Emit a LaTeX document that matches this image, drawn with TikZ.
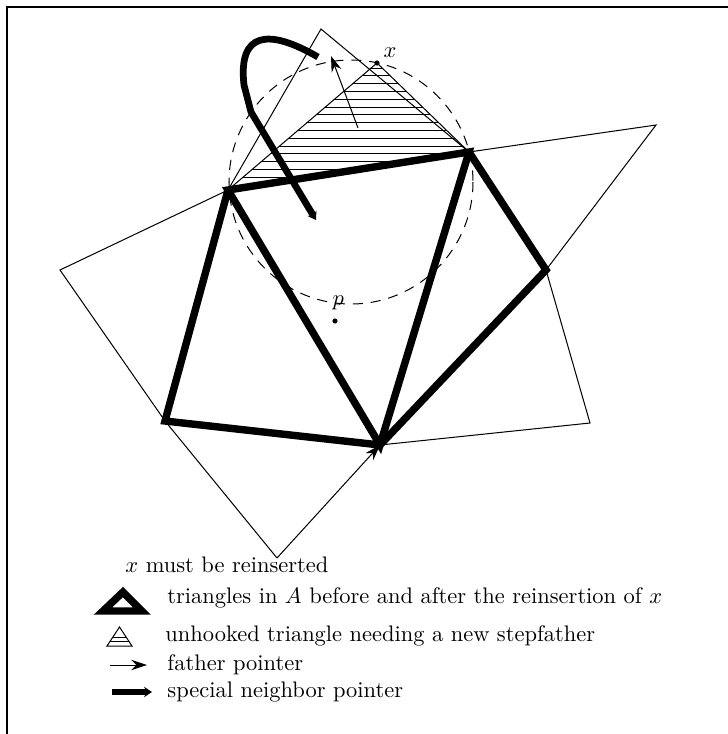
\documentclass[tikz,border=0pt]{standalone}
\usetikzlibrary{arrows.meta, positioning}

\begin{document}
\begin{tikzpicture}[
        x=0.445pt, y=-0.445pt,
        thinedge/.style={line width=0.45pt, draw=black},
        thickedge/.style={line width=3.3pt, draw=black, line join=miter},
        circumcircle/.style={line width=0.45pt, dash pattern=on 4.5pt off 3.5pt},
        dot/.style={circle, fill=black, inner sep=0pt, minimum size=2.3pt},
        fptr/.style={-{Stealth[length=7pt, width=4.6pt]}, line width=0.45pt},
        sptr/.style={-{Stealth[length=3.5pt, width=4.6pt]}, line width=3pt},
        legtext/.style={anchor=west, inner sep=0pt}
    ]
    \useasboundingbox (0,0) rectangle (728,734);

    % The frame
    \draw[line width=0.7pt] (7,734) -- (7,7) -- (728,7);

    % The vertices
    \coordinate (A) at (228,190);
    \coordinate (B) at (469,152);
    \coordinate (C) at (380,445);
    \coordinate (D) at (165,421);
    \coordinate (E) at (546,270);
    \coordinate (top) at (321,29);
    \coordinate (left) at (60,270);
    \coordinate (bot) at (277,558);
    \coordinate (right) at (656,125);
    \coordinate (farright) at (590,423);
    \node (x) [dot] at (377,63) {};
    \node (p) [dot] at (335,321) {};
    \node [above right=-2pt and -1.5pt of x] {$x$};
    \node [above=0pt of p, xshift=1.5pt] {$p$};

    % The unhooked triangle
    \begin{scope}
        \clip (A) -- (B) -- (x.center) -- cycle;
        \foreach \y in {68,75.8,...,190}
            \draw[thinedge] (200,\y) -- (500,\y);
    \end{scope}
    \draw[thinedge] (A) -- (x.center) -- (B);

    % The circle through x
    \draw[circumcircle] (351,182) circle[radius=122];

    % The old triangles
    \draw[thinedge] (A) -- (top) -- (B) -- (right) -- (E) -- (farright) -- (C);
    \draw[thinedge] (A) -- (left) -- (D) -- (bot);
    \draw[fptr] (bot) -- (C);

    % The triangles in A
    \draw[thickedge] (A) -- (B) -- (C) -- cycle;
    \draw[thickedge] (A) -- (D) -- (C);
    \draw[thickedge] (B) -- (E) -- (C);

    % The pointers
    \coordinate (ftail) at (358,128);
    \coordinate (fhead) at (331,56);
    \draw[fptr] (ftail) -- (fhead);
    \coordinate (stail) at (318,57);
    \coordinate (shead) at (316,220);
    \draw[sptr] (stail) .. controls (268,28) and (238,32) .. (244,85) -- (251,112) -- (shead);

    % The legend
    \node (leg1) [legtext] at (125,565) {$x$ must be reinserted};
    \draw[thickedge] (103,611) -- (142,611) -- (123,592) -- cycle;
    \node (leg2) [legtext] at (167,598) {triangles in $A$ before and after the reinsertion of $x$};
    \begin{scope}
        \clip (107,646) -- (132,646) -- (119.5,627) -- cycle;
        \foreach \y in {637,641}
            \draw[thinedge] (100,\y) -- (140,\y);
    \end{scope}
    \draw[thinedge] (107,646) -- (132,646) -- (119.5,627) -- cycle;
    \node (leg3) [legtext] at (165,636) {unhooked triangle needing a new stepfather};
    \coordinate (lf1) at (110,665);
    \coordinate (lf2) at (147,665);
    \draw[fptr] (lf1) -- (lf2);
    \node (leg4) [legtext] at (167,665) {father pointer};
    \coordinate (ls1) at (112,692);
    \coordinate (ls2) at (152,692);
    \draw[sptr] (ls1) -- (ls2);
    \node (leg5) [legtext] at (167,692) {special neighbor pointer};

\end{tikzpicture}
\end{document}
